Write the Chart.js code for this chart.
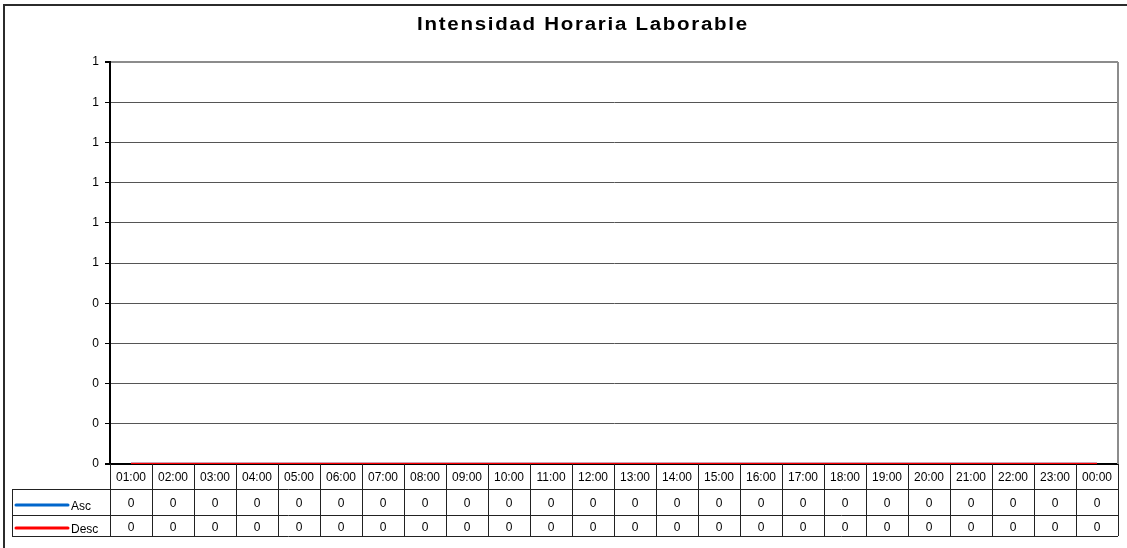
<!DOCTYPE html>
<html>
<head>
<meta charset="utf-8">
<title>Intensidad Horaria Laborable</title>
<script src="https://cdn.jsdelivr.net/npm/chart.js@4"></script>
<style>
  html, body { margin: 0; padding: 0; background: #fff; }
  #wrap { width: 1127px; height: 548px; position: relative; }
</style>
</head>
<body>
<div id="wrap"><canvas id="chart" width="1127" height="548"></canvas></div>
<script>
const chartTitle = 'Intensidad Horaria Laborable';
const hours = ['01:00', '02:00', '03:00', '04:00', '05:00', '06:00', '07:00', '08:00',
    '09:00', '10:00', '11:00', '12:00', '13:00', '14:00', '15:00', '16:00',
    '17:00', '18:00', '19:00', '20:00', '21:00', '22:00', '23:00', '00:00'];
const ascValues = [0, 0, 0, 0, 0, 0, 0, 0, 0, 0, 0, 0, 0, 0, 0, 0, 0, 0, 0, 0, 0, 0, 0, 0];
const descValues = [0, 0, 0, 0, 0, 0, 0, 0, 0, 0, 0, 0, 0, 0, 0, 0, 0, 0, 0, 0, 0, 0, 0, 0];
const seriesNames = ['Asc', 'Desc'];
const yMin = 0;
const yMax = 1;
const yStep = 0.1;

const FONT = '"Liberation Sans", Arial, sans-serif';
const ASC_COLOR = '#0066cc';
const DESC_COLOR = '#ff0000';

// marco exterior + titulo
const framePlugin = {
    id: 'frame',
    beforeDraw(chart) {
        const ctx = chart.ctx;
        ctx.save();
        ctx.fillStyle = '#fff';
        ctx.fillRect(0, 0, chart.width, chart.height);
        ctx.strokeStyle = '#2b2b2b';
        ctx.lineWidth = 2;
        ctx.beginPath();
        ctx.moveTo(4, chart.height + 5);
        ctx.lineTo(4, 5);
        ctx.lineTo(chart.width + 5, 5);
        ctx.stroke();

        // el titulo de Excel sale algo mas ancho
        ctx.fillStyle = '#000';
        ctx.font = 'bold 18px ' + FONT;
        ctx.letterSpacing = '1.5px';
        ctx.textAlign = 'center';
        ctx.textBaseline = 'middle';
        ctx.translate(583, 25);
        ctx.scale(1.14, 1);
        ctx.fillText(chartTitle, 0, 0);
        ctx.restore();
    },
    afterDatasetsDraw(chart) {
        const ca = chart.chartArea;
        const ctx = chart.ctx;
        ctx.save();
        ctx.strokeStyle = '#8c8c8c';
        ctx.lineWidth = 2;
        ctx.beginPath();
        ctx.moveTo(ca.right, ca.top);
        ctx.lineTo(ca.right, ca.bottom);
        ctx.stroke();
        ctx.restore();
    }
};

// tabla de datos bajo el grafico
const tablePlugin = {
    id: 'dataTable',
    afterDraw(chart) {
        const ctx = chart.ctx;
        const ca = chart.chartArea;
        const xs = chart.scales.x;
        const n = hours.length;
        const colW = (ca.right - ca.left) / n;
        const rows = [ca.bottom, ca.bottom + 25, ca.bottom + 51, ca.bottom + 72];
        const legendLeft = 12;

        ctx.save();
        ctx.strokeStyle = '#222';
        ctx.lineWidth = 1;
        ctx.beginPath();
        // verticales
        for (let i = 0; i <= n; i++) {
            const x = Math.round(ca.left + colW * i) + 0.5;
            ctx.moveTo(x, rows[0]);
            ctx.lineTo(x, rows[3]);
        }
        ctx.moveTo(legendLeft + 0.5, rows[1]);
        ctx.lineTo(legendLeft + 0.5, rows[3]);
        // horizontales
        [rows[1], rows[2], rows[3]].forEach(y => {
            ctx.moveTo(legendLeft, y + 0.5);
            ctx.lineTo(ca.right, y + 0.5);
        });
        ctx.stroke();

        ctx.fillStyle = '#000';
        ctx.font = '12px ' + FONT;
        ctx.textAlign = 'center';
        ctx.textBaseline = 'middle';
        hours.forEach((h, i) => {
            const x = xs.getPixelForValue(i);
            ctx.fillText(h, x, (rows[0] + rows[1]) / 2 + 1);
            ctx.fillText(String(ascValues[i]), x, (rows[1] + rows[2]) / 2 + 2);
            ctx.fillText(String(descValues[i]), x, (rows[2] + rows[3]) / 2 + 2);
        });

        // leyenda
        const series = [
            { name: seriesNames[0], color: ASC_COLOR, y: rows[2] - 10 },
            { name: seriesNames[1], color: DESC_COLOR, y: rows[3] - 8 }
        ];
        series.forEach(s => {
            ctx.strokeStyle = s.color;
            ctx.lineWidth = 3;
            ctx.lineCap = 'round';
            ctx.beginPath();
            ctx.moveTo(16, s.y);
            ctx.lineTo(68, s.y);
            ctx.stroke();
            ctx.textAlign = 'left';
            ctx.fillText(s.name, 71, s.y + 2);
        });
        ctx.restore();
    }
};

const ctx = document.getElementById('chart').getContext('2d');
const chart = new Chart(ctx, {
    type: 'line',
    data: {
        labels: hours,
        datasets: [{
            label: seriesNames[0],
            data: ascValues,
            borderColor: ASC_COLOR,
            backgroundColor: ASC_COLOR,
            borderWidth: 2.5,
            pointRadius: 0,
            order: 2
        }, {
            label: seriesNames[1],
            data: descValues,
            borderColor: DESC_COLOR,
            backgroundColor: DESC_COLOR,
            borderWidth: 2.5,
            pointRadius: 0,
            order: 1
        }]
    },
    options: {
        responsive: false,
        animation: false,
        layout: { padding: { top: 62, right: 9, bottom: 84, left: 0 } },
        plugins: {
            legend: { display: false },
            title: { display: false },
            tooltip: { enabled: false }
        },
        scales: {
            x: {
                type: 'category',
                display: false,
                offset: true
            },
            y: {
                min: yMin,
                max: yMax,
                afterFit(scale) { scale.width = 110; },
                ticks: {
                    stepSize: yStep,
                    color: '#000',
                    font: { family: FONT, size: 12 },
                    padding: 6,
                    callback: v => Math.round(v)
                },
                grid: {
                    color: c => c.tick && c.tick.value >= yMax ? '#8c8c8c' : (c.tick && c.tick.value <= yMin ? '#000' : '#555'),
                    lineWidth: c => c.tick && (c.tick.value >= yMax || c.tick.value <= yMin) ? 2 : 1,
                    tickColor: '#000',
                    tickLength: 5
                },
                border: { color: '#000', width: 2 }
            }
        }
    },
    plugins: [framePlugin, tablePlugin]
});
</script>
</body>
</html>
